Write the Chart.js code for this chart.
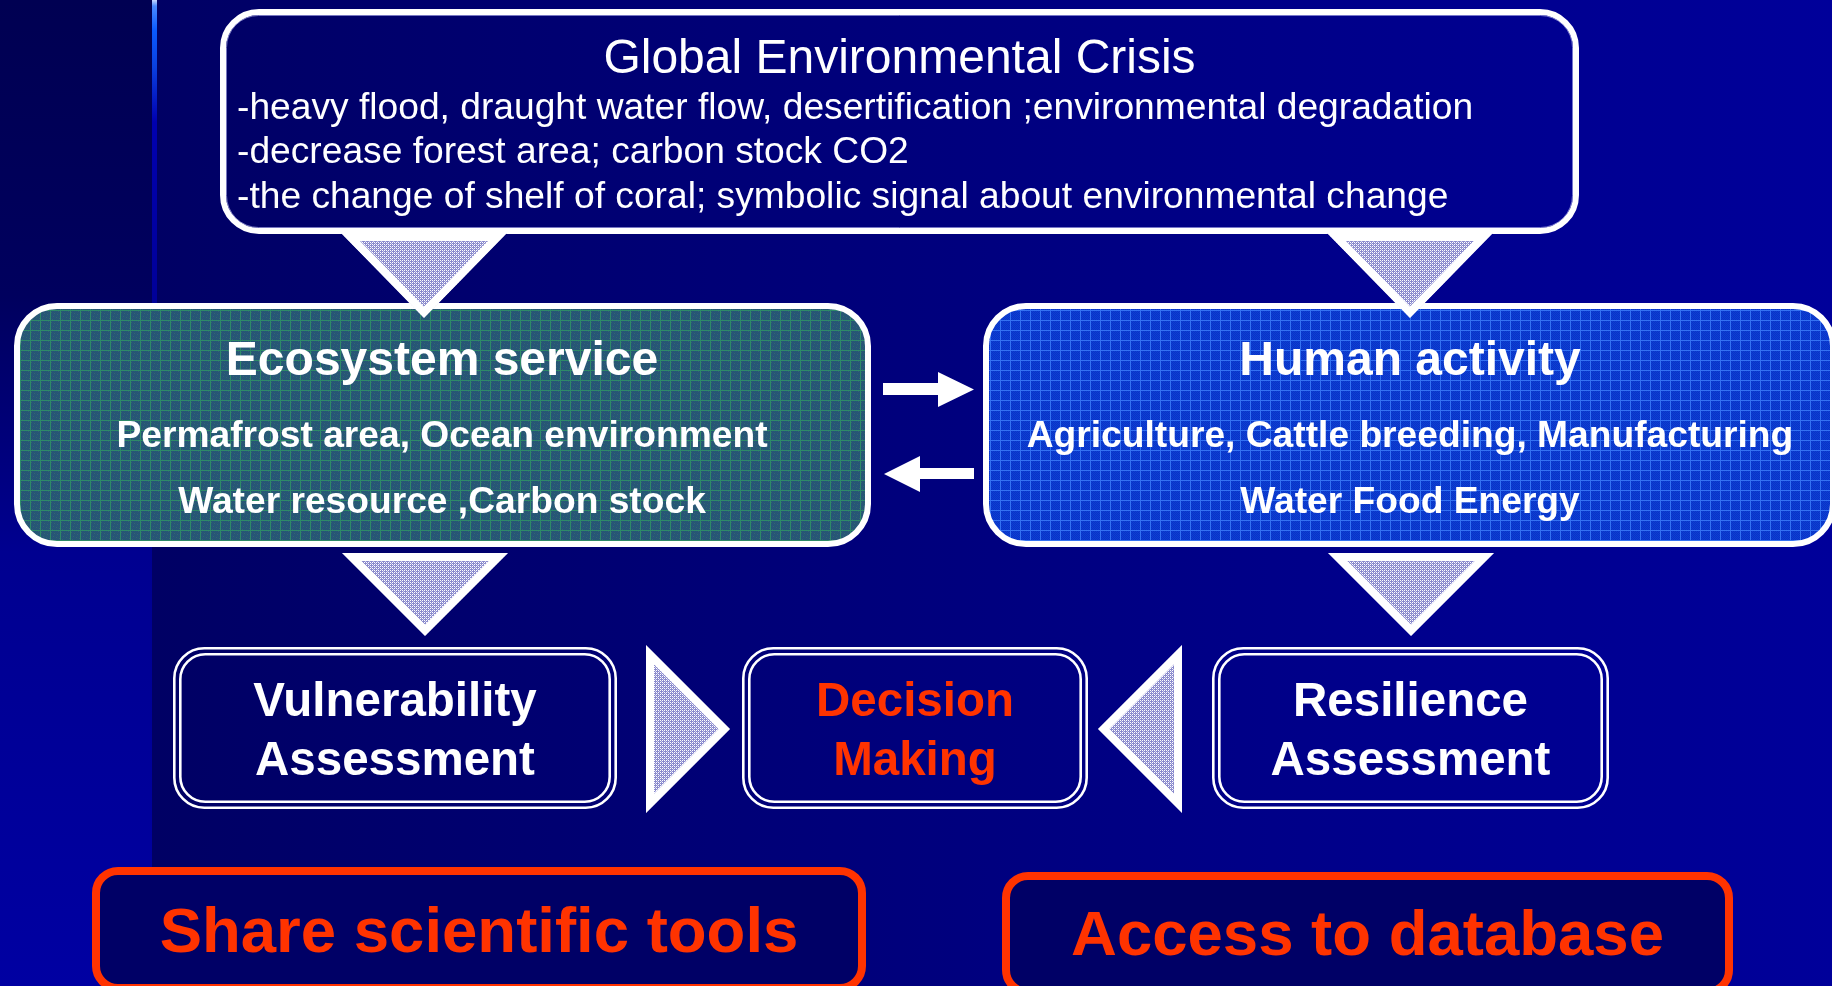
<!DOCTYPE html>
<html><head><meta charset="utf-8">
<script src="https://cdn.jsdelivr.net/npm/chart.js@4"></script>
<style>html,body{margin:0;padding:0;background:#000066;overflow:hidden}canvas{display:block}</style>
</head><body>
<canvas id="c" width="1832" height="986"></canvas>
<script>
// ---- content (text data) ----
const crisisTitle = "Global Environmental Crisis";
const crisisLines = [
  "-heavy flood, draught water flow, desertification ;environmental degradation",
  "-decrease forest area; carbon stock CO2",
  "-the change of shelf of coral; symbolic signal about environmental change"
];
const ecoTitle = "Ecosystem service";
const ecoLines = ["Permafrost area, Ocean environment", "Water resource ,Carbon stock"];
const humanTitle = "Human activity";
const humanLines = ["Agriculture, Cattle breeding, Manufacturing", "Water Food Energy"];
const assessLabels = [["Vulnerability", "Assessment"], ["Decision", "Making"], ["Resilience", "Assessment"]];
const actionLabels = ["Share scientific tools", "Access to database"];

// ---- layout (in axis units) ----
const layout = {
  crisis: {x0: 220, y0: 9, x1: 1579, y1: 234, r: 36},
  eco: {x0: 14, y0: 303, x1: 871, y1: 547, r: 40},
  human: {x0: 983, y0: 303, x1: 1836, y1: 547, r: 40},
  assess: [{x0: 173, x1: 617}, {x0: 742, x1: 1088}, {x0: 1212, x1: 1609}],
  assessY: [647, 809],
  actions: [{x0: 92, y0: 867, x1: 866, y1: 992}, {x0: 1002, y0: 872, x1: 1733, y1: 996}],
  downTris: [{cx: 424, y0: 233, y1: 318, hw: 83}, {cx: 1410, y0: 233, y1: 318, hw: 83},
             {cx: 425, y0: 553, y1: 636, hw: 83}, {cx: 1411, y0: 553, y1: 636, hw: 83}],
  sideTris: [{xf: 646, xt: 730, y0: 645, y1: 813}, {xf: 1182, xt: 1098, y0: 645, y1: 813}]
};

function makePattern(w, h, draw) {
  const c = document.createElement('canvas');
  c.width = w; c.height = h;
  const g = c.getContext('2d');
  draw(g, w, h);
  return c;
}
const greenTile = makePattern(10, 10, (g, w, h) => {
  g.fillStyle = '#2a5a72'; g.fillRect(0, 0, w, h);
  for (let y = 0; y < h; y++) for (let x = 0; x < w; x++) {
    if ((x + y) % 2 === 0) { g.fillStyle = '#24527a'; g.fillRect(x, y, 1, 1); }
    else if ((x * 3 + y) % 5 === 0) { g.fillStyle = '#346a6a'; g.fillRect(x, y, 1, 1); }
  }
  g.fillStyle = '#2e8a68'; g.fillRect(0, 0, w, 1); g.fillRect(0, 0, 1, h);
});
const blueTile = makePattern(10, 10, (g, w, h) => {
  g.fillStyle = '#0d3ed4'; g.fillRect(0, 0, w, h);
  for (let y = 0; y < h; y++) for (let x = 0; x < w; x++) {
    if ((x + y) % 2 === 0) { g.fillStyle = '#0934c6'; g.fillRect(x, y, 1, 1); }
  }
  g.fillStyle = '#3472f2'; g.fillRect(0, 0, w, 1); g.fillRect(0, 0, 1, h);
});
const lavTile = makePattern(4, 4, (g, w, h) => {
  g.fillStyle = '#8a8acc'; g.fillRect(0, 0, w, h);
  g.fillStyle = '#ffffff';
  g.fillRect(0, 0, 1, 1); g.fillRect(2, 0, 1, 1); g.fillRect(0, 2, 1, 1); g.fillRect(2, 2, 1, 1);
  g.fillStyle = '#ccccf0'; g.fillRect(1, 1, 1, 1); g.fillRect(3, 3, 1, 1);
});

function rr(ctx, x0, y0, x1, y1, r) {
  ctx.beginPath();
  ctx.moveTo(x0 + r, y0);
  ctx.lineTo(x1 - r, y0);
  ctx.arcTo(x1, y0, x1, y0 + r, r);
  ctx.lineTo(x1, y1 - r);
  ctx.arcTo(x1, y1, x1 - r, y1, r);
  ctx.lineTo(x0 + r, y1);
  ctx.arcTo(x0, y1, x0, y1 - r, r);
  ctx.lineTo(x0, y0 + r);
  ctx.arcTo(x0, y0, x0 + r, y0, r);
  ctx.closePath();
}

const SANS = '"Liberation Sans", Arial, Helvetica, sans-serif';

const diagram = {
  id: 'diagram',
  beforeDraw(chart) {
    const ctx = chart.ctx, W = chart.width, H = chart.height;
    const sx = chart.scales.x, sy = chart.scales.y;
    const X = v => sx.getPixelForValue(v), Y = v => sy.getPixelForValue(v);
    ctx.save();
    let g = ctx.createLinearGradient(X(152), 0, X(1832), 0);
    g.addColorStop(0, '#000064'); g.addColorStop(1, '#00009a');
    ctx.fillStyle = g; ctx.fillRect(0, 0, W, H);
    g = ctx.createLinearGradient(0, Y(0), 0, Y(986));
    g.addColorStop(0, '#000052'); g.addColorStop(0.3, '#00005e');
    g.addColorStop(0.56, '#000090'); g.addColorStop(1, '#0000a2');
    ctx.fillStyle = g; ctx.fillRect(X(0), Y(0), X(152) - X(0), Y(986) - Y(0));
    g = ctx.createLinearGradient(0, Y(0), 0, Y(305));
    g.addColorStop(0, '#c8d8ff'); g.addColorStop(0.02, '#4a8aff');
    g.addColorStop(0.1, '#0a5aff'); g.addColorStop(0.22, '#0a40e0');
    g.addColorStop(0.4, '#0000b0'); g.addColorStop(1, '#000098');
    ctx.fillStyle = g; ctx.fillRect(X(152), Y(0), X(157) - X(152), Y(305) - Y(0));
    ctx.restore();
  },
  afterDraw(chart) {
    const ctx = chart.ctx;
    const sx = chart.scales.x, sy = chart.scales.y;
    const X = v => sx.getPixelForValue(v), Y = v => sy.getPixelForValue(v);
    ctx.save();

    const c = layout.crisis;
    rr(ctx, X(c.x0) + 3, Y(c.y0) + 3, X(c.x1) - 3, Y(c.y1) - 3, c.r);
    ctx.lineWidth = 6; ctx.strokeStyle = '#ffffff'; ctx.stroke();
    rr(ctx, X(c.x0) + 6.5, Y(c.y0) + 6.5, X(c.x1) - 6.5, Y(c.y1) - 6.5, c.r - 4);
    ctx.lineWidth = 1; ctx.strokeStyle = 'rgba(170,170,230,0.7)'; ctx.stroke();
    ctx.fillStyle = '#ffffff';
    ctx.textBaseline = 'alphabetic';
    ctx.textAlign = 'center';
    ctx.font = '48px ' + SANS;
    ctx.fillText(crisisTitle, X((c.x0 + c.x1) / 2), Y(73));
    ctx.textAlign = 'left';
    ctx.font = '37.2px ' + SANS;
    const crisisBase = [119, 163, 208];
    crisisLines.forEach((t, i) => ctx.fillText(t, X(237), Y(crisisBase[i])));

    const boxes = [
      {b: layout.eco, tile: greenTile, title: ecoTitle, lines: ecoLines, cx: 442},
      {b: layout.human, tile: blueTile, title: humanTitle, lines: humanLines, cx: 1410}
    ];
    boxes.forEach(o => {
      const b = o.b;
      rr(ctx, X(b.x0) + 3, Y(b.y0) + 3, X(b.x1) - 3, Y(b.y1) - 3, b.r);
      ctx.fillStyle = ctx.createPattern(o.tile, 'repeat');
      ctx.fill();
      ctx.lineWidth = 6; ctx.strokeStyle = '#ffffff'; ctx.stroke();
      const cx = X(o.cx);
      ctx.fillStyle = '#ffffff'; ctx.textAlign = 'center';
      ctx.font = 'bold 48px ' + SANS;
      ctx.fillText(o.title, cx, Y(375));
      ctx.font = 'bold 37.2px ' + SANS;
      ctx.fillText(o.lines[0], cx, Y(447));
      ctx.fillText(o.lines[1], cx, Y(513));
    });

    ctx.fillStyle = '#ffffff';
    ctx.beginPath();
    ctx.moveTo(X(883), Y(383)); ctx.lineTo(X(938), Y(383)); ctx.lineTo(X(938), Y(372));
    ctx.lineTo(X(974), Y(389.5)); ctx.lineTo(X(938), Y(407)); ctx.lineTo(X(938), Y(395));
    ctx.lineTo(X(883), Y(395)); ctx.closePath(); ctx.fill();
    ctx.beginPath();
    ctx.moveTo(X(974), Y(468)); ctx.lineTo(X(920), Y(468)); ctx.lineTo(X(920), Y(456));
    ctx.lineTo(X(884), Y(474)); ctx.lineTo(X(920), Y(492)); ctx.lineTo(X(920), Y(479));
    ctx.lineTo(X(974), Y(479)); ctx.closePath(); ctx.fill();

    const lav = ctx.createPattern(lavTile, 'repeat');
    function tri(pts) {
      ctx.save();
      ctx.beginPath();
      ctx.moveTo(pts[0][0], pts[0][1]);
      ctx.lineTo(pts[1][0], pts[1][1]);
      ctx.lineTo(pts[2][0], pts[2][1]);
      ctx.closePath();
      ctx.clip();
      ctx.fillStyle = lav; ctx.fill();
      ctx.lineJoin = 'miter';
      ctx.lineWidth = 16; ctx.strokeStyle = '#ffffff'; ctx.stroke();
      ctx.restore();
    }
    layout.downTris.forEach(t => tri([[X(t.cx - t.hw), Y(t.y0)], [X(t.cx + t.hw), Y(t.y0)], [X(t.cx), Y(t.y1)]]));
    layout.sideTris.forEach(t => tri([[X(t.xf), Y(t.y0)], [X(t.xt), Y((t.y0 + t.y1) / 2)], [X(t.xf), Y(t.y1)]]));

    const [ay0, ay1] = layout.assessY;
    layout.assess.forEach((b, i) => {
      ctx.strokeStyle = '#ffffff';
      ctx.lineWidth = 2.6;
      rr(ctx, X(b.x0) + 1.3, Y(ay0) + 1.3, X(b.x1) - 1.3, Y(ay1) - 1.3, 30);
      ctx.stroke();
      rr(ctx, X(b.x0) + 7.3, Y(ay0) + 7.3, X(b.x1) - 7.3, Y(ay1) - 7.3, 25);
      ctx.stroke();
      ctx.fillStyle = i === 1 ? '#ff3300' : '#ffffff';
      ctx.textAlign = 'center';
      ctx.font = 'bold 47.5px ' + SANS;
      const cx = X((b.x0 + b.x1) / 2);
      ctx.fillText(assessLabels[i][0], cx, Y(716));
      ctx.fillText(assessLabels[i][1], cx, Y(775));
    });

    const actBase = [952, 955];
    layout.actions.forEach((b, i) => {
      rr(ctx, X(b.x0) + 4, Y(b.y0) + 4, X(b.x1) - 4, Y(b.y1) - 4, 22);
      ctx.fillStyle = '#000066'; ctx.fill();
      ctx.lineWidth = 8; ctx.strokeStyle = '#ff3300'; ctx.stroke();
      ctx.fillStyle = '#ff3300';
      ctx.textAlign = 'center';
      ctx.font = 'bold 63.5px ' + SANS;
      ctx.fillText(actionLabels[i], X((b.x0 + b.x1) / 2), Y(actBase[i]));
    });

    ctx.restore();
  }
};

new Chart(document.getElementById('c'), {
  type: 'scatter',
  data: {datasets: [{data: [], showLine: false}]},
  options: {
    responsive: false,
    animation: false,
    devicePixelRatio: 1,
    layout: {padding: 0},
    plugins: {legend: {display: false}, tooltip: {enabled: false}, title: {display: false}},
    scales: {
      x: {type: 'linear', min: 0, max: 1832, display: false},
      y: {type: 'linear', min: 0, max: 986, reverse: true, display: false}
    }
  },
  plugins: [diagram]
});
</script>
</body></html>
